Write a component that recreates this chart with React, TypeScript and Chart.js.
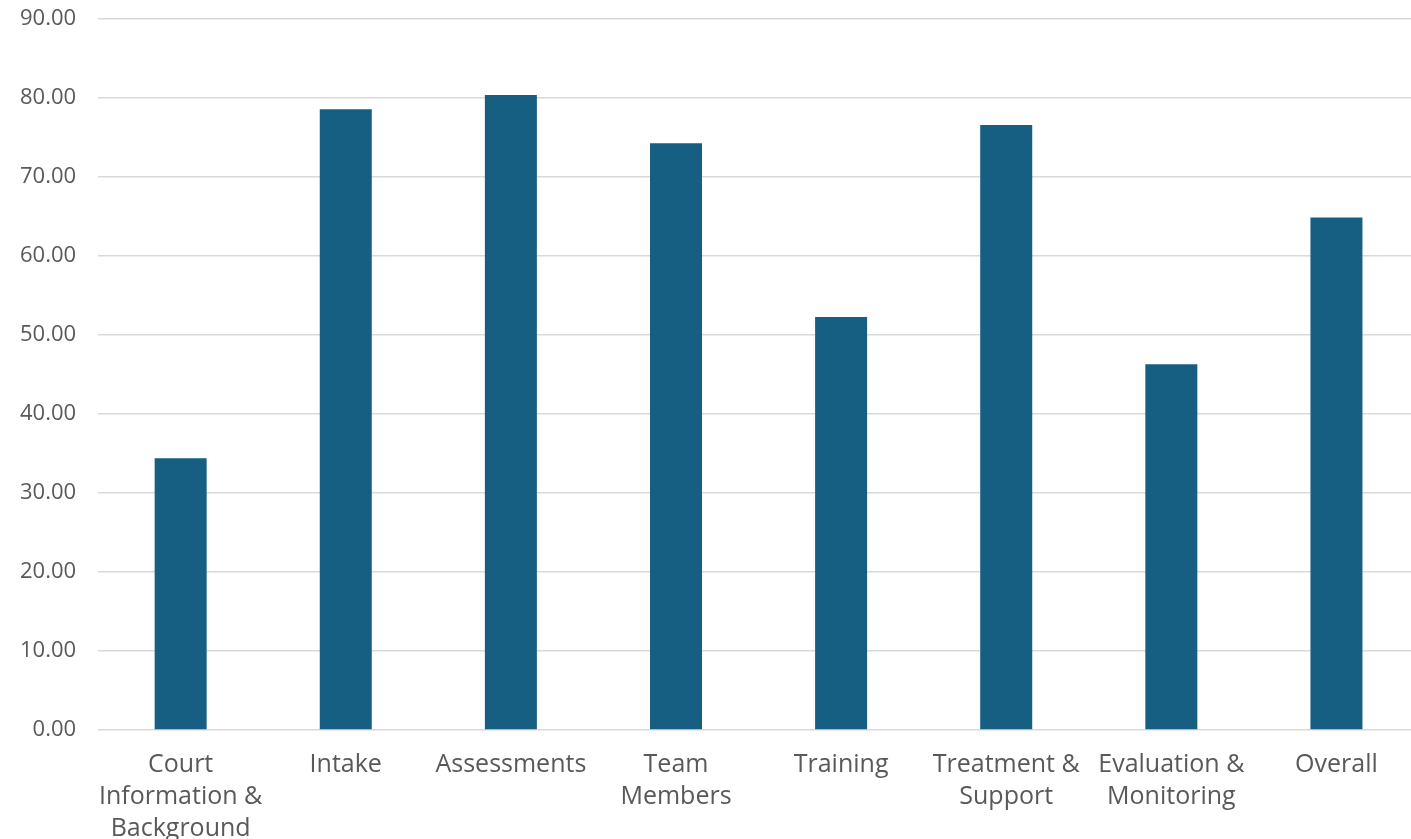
import React, { useEffect, useRef } from "react";
import { Chart, registerables } from "chart.js";

Chart.register(...registerables);

const categories: (string | string[])[] = [
  ["Court", "Information &", "Background"],
  "Intake",
  "Assessments",
  ["Team", "Members"],
  "Training",
  ["Treatment &", "Support"],
  ["Evaluation &", "Monitoring"],
  "Overall",
];

const scores: number[] = [34.4, 78.6, 80.4, 74.3, 52.3, 76.6, 46.3, 64.9];

const yMin = 0;
const yMax = 90;
const yStep = 10;

const BAR_COLOR = "#175f82";
const GRID_COLOR = "#d9d9d9";
const TEXT_COLOR = "#595959";
const FONT_FAMILY = "'Open Sans', 'Noto Sans', sans-serif";

export default function App() {
  const canvasRef = useRef<HTMLCanvasElement | null>(null);

  useEffect(() => {
    const canvas = canvasRef.current;
    if (!canvas) return;
    const chart = new Chart(canvas, {
      type: "bar",
      data: {
        labels: categories,
        datasets: [
          {
            data: scores,
            backgroundColor: BAR_COLOR,
            borderWidth: 0,
            categoryPercentage: 1,
            barPercentage: 0.315,
          },
        ],
      },
      options: {
        responsive: false,
        animation: false,
        layout: { padding: { left: 0, top: 6, right: 1, bottom: 0 } },
        plugins: {
          legend: { display: false },
          tooltip: { enabled: false },
        },
        scales: {
          x: {
            grid: { display: false, drawTicks: false },
            border: { display: false },
            ticks: {
              color: TEXT_COLOR,
              font: { family: FONT_FAMILY, size: 25, lineHeight: 1.28 },
              padding: 19,
              maxRotation: 0,
              autoSkip: false,
            },
          },
          y: {
            min: yMin,
            max: yMax,
            grid: { color: GRID_COLOR, lineWidth: 1.5, drawTicks: false },
            border: { display: false },
            ticks: {
              stepSize: yStep,
              color: TEXT_COLOR,
              font: { family: FONT_FAMILY, size: 22 },
              padding: 22,
              callback: (v) => Number(v).toFixed(2),
            },
          },
        },
      },
    });
    return () => chart.destroy();
  }, []);

  return (
    <div
      style={{
        position: "fixed",
        left: 0,
        top: 0,
        width: 1411,
        height: 839,
        overflow: "hidden",
        background: "#ffffff",
      }}
    >
      <canvas
        ref={canvasRef}
        width={1422}
        height={880}
        style={{ display: "block", position: "absolute", left: -2, top: -16 }}
      />
    </div>
  );
}
